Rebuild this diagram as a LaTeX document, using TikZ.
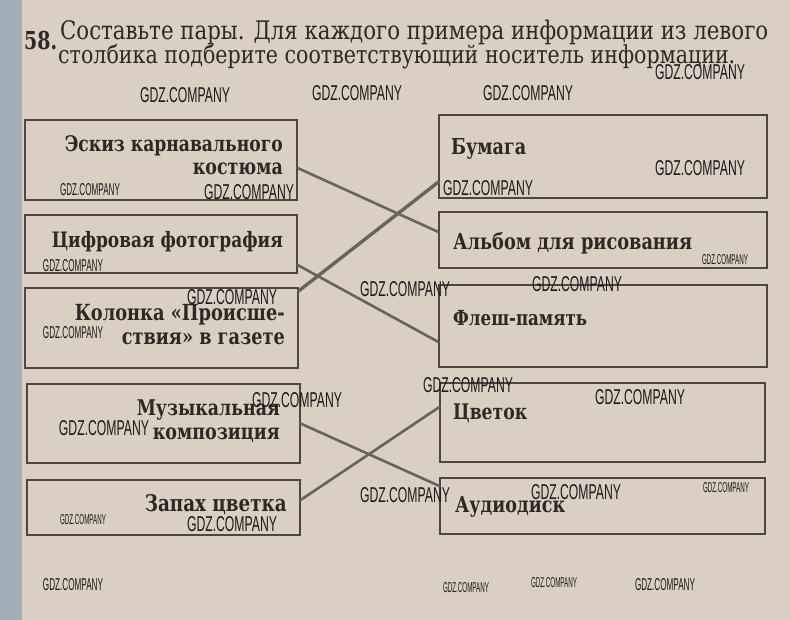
\documentclass[tikz,border=0pt]{standalone}
\usepackage{fontspec}
\usepackage{graphicx}
\setmainfont{DejaVu Serif}
\newfontfamily\wmfont{Liberation Sans}
\definecolor{paper}{HTML}{D9CFC2}
\definecolor{strip}{HTML}{A3ADB7}
\definecolor{boxline}{HTML}{4E4640}
\definecolor{pencil}{HTML}{6A625C}
\definecolor{ink}{HTML}{2E2824}
\definecolor{wmink}{HTML}{1A1A1A}
\newcommand\fw[2]{\scalebox{1}[1.25]{\resizebox{#1pt}{!}{#2}}}
\newcommand\ft[2]{\scalebox{1}[1.2]{\resizebox{#1pt}{!}{#2}}}
\newcommand\wmL{\resizebox{90pt}{15pt}{\wmfont GDZ.COMPANY}}
\newcommand\wmS{\resizebox{60pt}{12pt}{\wmfont GDZ.COMPANY}}
\newcommand\wmT{\resizebox{46pt}{10pt}{\wmfont GDZ.COMPANY}}
\tikzset{
  pbox/.style={draw=boxline,line width=1.2pt,inner sep=0pt},
  lbl/.style={text=ink,inner sep=0pt,font=\bfseries\fontsize{16}{18}\selectfont},
  ttl/.style={text=ink,inner sep=0pt,font=\fontsize{16}{18}\selectfont},
  wire/.style={draw=pencil,line width=2.6pt,line cap=round},
  wm/.style={inner sep=0pt,text=wmink}
}
\begin{document}
\begin{tikzpicture}[x=1pt,y=-1pt]
\useasboundingbox (0,0) rectangle (790,620);
\fill[paper] (0,0) rectangle (790,620);
\fill[strip] (0,0) rectangle (22,620);

% title
\node[lbl,anchor=west] (num) at (24,41) {\scalebox{1}[1.3]{\resizebox{33pt}{!}{58.}}};
\node[ttl,anchor=west] (t1) at (60,32) {\ft{708}{Составьте пары. Для каждого примера информации из левого}};
\node[ttl,anchor=west] (t2) at (58,57) {\ft{677}{столбика подберите соответствующий носитель информации.}};

% left boxes
\node[pbox,minimum width=272pt,minimum height=80pt] (b1) at (161,160) {};
\node[pbox,minimum width=272pt,minimum height=58pt] (b2) at (161,244) {};
\node[pbox,minimum width=273pt,minimum height=80pt] (b3) at (161.5,328) {};
\node[pbox,minimum width=273pt,minimum height=79pt] (b4) at (163.5,423.5) {};
\node[pbox,minimum width=273pt,minimum height=55pt] (b5) at (163.5,507.5) {};
% right boxes
\node[pbox,minimum width=328pt,minimum height=83pt] (bA) at (603,156.5) {};
\node[pbox,minimum width=328pt,minimum height=56pt] (bB) at (603,240) {};
\node[pbox,minimum width=328pt,minimum height=82pt] (bC) at (603,326) {};
\node[pbox,minimum width=325pt,minimum height=79pt] (bD) at (602.5,422.5) {};
\node[pbox,minimum width=325pt,minimum height=56pt] (bE) at (602.5,506) {};

% left labels
\node[lbl,anchor=east] (l1a) at (283,146) {\fw{218}{Эскиз карнавального}};
\node[lbl,anchor=east] (l1b) at (283,169) {\fw{90}{костюма}};
\node[lbl,anchor=east] (l2) at (283,242) {\fw{231}{Цифровая фотография}};
\node[lbl,anchor=east] (l3a) at (285,315) {\fw{210}{Колонка «Происше-}};
\node[lbl,anchor=east] (l3b) at (285,339) {\fw{163}{ствия» в газете}};
\node[lbl,anchor=east] (l4a) at (280,410) {\fw{143}{Музыкальная}};
\node[lbl,anchor=east] (l4b) at (280,435) {\fw{127}{композиция}};
\node[lbl,anchor=east] (l5) at (287,505) {\fw{142}{Запах цветка}};
% right labels
\node[lbl,anchor=west] (rA) at (451,149) {\fw{75}{Бумага}};
\node[lbl,anchor=west] (rB) at (453,243) {\fw{239}{Альбом для рисования}};
\node[lbl,anchor=west] (rC) at (453,318) {\fw{134}{Флеш-память}};
\node[lbl,anchor=west] (rD) at (453,413) {\fw{74}{Цветок}};
\node[lbl,anchor=west] (rE) at (455,507) {\fw{110}{Аудиодиск}};

% connectors
\draw[wire] ([yshift=-8pt]b1.east) -- ([yshift=8pt]bB.west);
\draw[wire] ([yshift=-21pt]b2.east) -- ([yshift=-16pt]bC.west);
\draw[wire,line width=3.4pt] ([yshift=37pt]b3.east) -- ([yshift=-25.5pt]bA.west);
\draw[wire] ([yshift=0pt]b4.east) -- ([yshift=20pt]bE.west);
\draw[wire] ([yshift=7.5pt]b5.east) -- ([yshift=15.5pt]bD.west);

% watermarks
\foreach \x/\y/\s [count=\i] in {185/95/L,357/93/L,528/93/L,700/72/L,700/168/L,488/188/L,
  90/190/S,249/192/L,73/266/S,232/297/L,405/289/L,577/284/L,73/333/S,725/260/T,
  468/385/L,297/400/L,104/428/L,640/397/L,405/495/L,576/492/L,726/488/T,83/520/T,
  232/524/L,73/585/S,466/588/T,554/583/T,665/585/S}
  \node[wm] (w\i) at (\x,\y) {\csname wm\s\endcsname};
\end{tikzpicture}
\end{document}
